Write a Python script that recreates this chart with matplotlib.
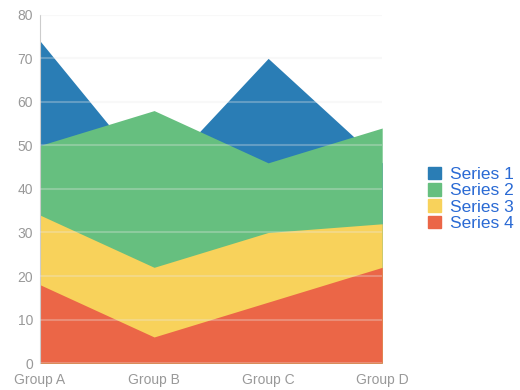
import numpy as np
import matplotlib.pyplot as plt
from matplotlib.patches import Patch

plt.rcParams['font.family'] = ['Liberation Sans', 'DejaVu Sans']

groups = ["Group A", "Group B", "Group C", "Group D"]
series_names = ["Series 1", "Series 2", "Series 3", "Series 4"]
s1 = [74, 42, 70, 46]
s2 = [50, 58, 46, 54]
s3 = [34, 22, 30, 32]
s4 = [18, 6, 14, 22]
colors = ["#2a7db5", "#66bf7f", "#f8d25b", "#eb6647"]

fig = plt.figure(figsize=(5.2, 3.9), dpi=100)
ax = fig.add_axes([0.077, 0.069, 0.658, 0.893])

x = np.arange(len(groups))
# areas overlap (not stacked), back to front
for vals, col in zip([s1, s2, s3, s4], colors):
    ax.fill_between(x, 0, vals, color=col, linewidth=0, zorder=2)

ax.set_xlim(0, 3)
ax.set_ylim(0, 80)
ax.set_yticks(range(0, 81, 10))
ax.set_xticks(x)
ax.set_xticklabels(groups)
ax.yaxis.grid(True, color="#e8e8e8", linewidth=1.5, alpha=0.3, zorder=3)
ax.set_axisbelow(False)

for side in ["top", "right", "bottom"]:
    ax.spines[side].set_visible(False)
ax.spines["left"].set_color("#cccccc")
ax.tick_params(axis="both", length=0, colors="#999999", labelsize=10)
ax.tick_params(axis="y", pad=5)
ax.tick_params(axis="x", pad=7)

handles = [Patch(color=c) for c in colors]
leg = fig.legend(handles, series_names, loc="center left", bbox_to_anchor=(0.81, 0.49),
                 frameon=False, fontsize=12.5, handlelength=0.75, handleheight=0.75,
                 handletextpad=0.5, labelspacing=0.05, borderaxespad=0)
for t in leg.get_texts():
    t.set_color("#2a6ad4")

fig.savefig("out.png", dpi=100)
